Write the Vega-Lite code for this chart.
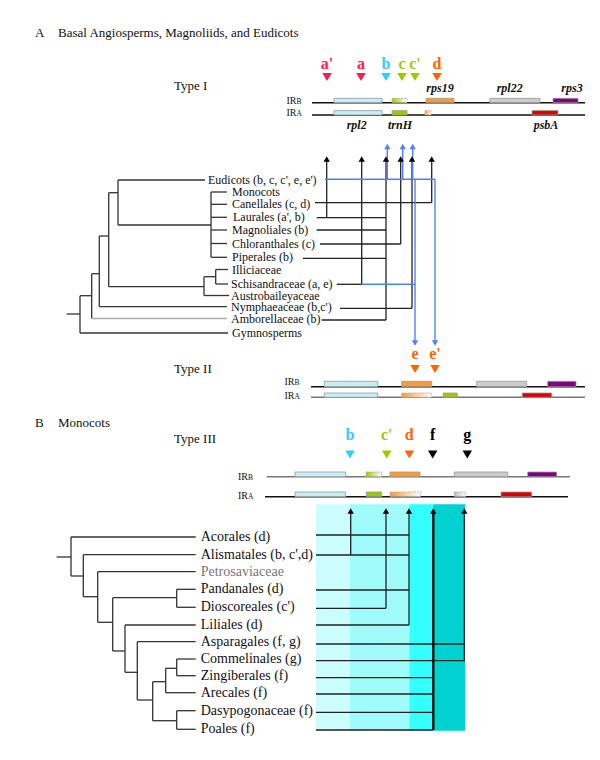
{
"$schema":"https://vega.github.io/schema/vega-lite/v6.json",
"width":600,"height":760,"padding":0,
"autosize":{"type":"fit","contains":"padding"},
"background":"white",
"config":{"view":{"stroke":null},"text":{"font":"Liberation Serif"}},
"resolve":{"scale":{"fill":"independent"}},
"datasets":{
"band":[{"x":316,"x2":350,"y":504.3,"y2":730.7,"b":"b1"},{"x":350,"x2":409.3,"y":504.3,"y2":730.7,"b":"b2"},{"x":409.3,"x2":433.3,"y":504.3,"y2":730.7,"b":"b3"},{"x":433.3,"x2":465,"y":504.3,"y2":730.7,"b":"b4"}],
"genes":[
{"x":334,"x2":382,"y":98.3,"y2":102.7,"g":"rpl2"},
{"x":334,"x2":382,"y":110.6,"y2":115,"g":"rpl2"},
{"x":392,"x2":407,"y":110.6,"y2":115,"g":"trnH"},
{"x":426,"x2":454,"y":98.3,"y2":102.7,"g":"rps19"},
{"x":490,"x2":540,"y":98.3,"y2":102.7,"g":"rpl22"},
{"x":553,"x2":578,"y":98.3,"y2":102.7,"g":"rps3"},
{"x":532,"x2":558,"y":110.6,"y2":115,"g":"psbA"},
{"x":324.3,"x2":377.7,"y":381.3,"y2":386.7,"g":"rpl2"},
{"x":324.3,"x2":377.7,"y":393,"y2":397.3,"g":"rpl2"},
{"x":401.7,"x2":431.7,"y":381.3,"y2":386.7,"g":"rps19"},
{"x":476.7,"x2":526.7,"y":381.3,"y2":386.7,"g":"rpl22"},
{"x":547.7,"x2":576,"y":381.3,"y2":386.7,"g":"rps3"},
{"x":443.3,"x2":457.3,"y":393,"y2":397.3,"g":"trnH"},
{"x":522.3,"x2":551.7,"y":393,"y2":397.3,"g":"psbA"},
{"x":295,"x2":345.7,"y":472,"y2":476.7,"g":"rpl2"},
{"x":295,"x2":345.7,"y":492,"y2":496.7,"g":"rpl2"},
{"x":366.3,"x2":381.7,"y":492,"y2":496.7,"g":"trnH"},
{"x":390,"x2":420,"y":472,"y2":476.7,"g":"rps19"},
{"x":454.3,"x2":507.7,"y":472,"y2":476.7,"g":"rpl22"},
{"x":527.7,"x2":556.7,"y":472,"y2":476.7,"g":"rps3"},
{"x":501,"x2":531.7,"y":492,"y2":496.7,"g":"psbA"}],
"gradGreen":[{"x":392,"x2":407,"y":98.3,"y2":102.7},{"x":366,"x2":381.7,"y":472,"y2":476.7}],
"gradOrange":[{"x":425,"x2":431,"y":110.6,"y2":115},{"x":401.7,"x2":431.7,"y":393,"y2":397.3},{"x":390,"x2":420.7,"y":492,"y2":496.7}],
"gradGray":[{"x":454.3,"x2":465.7,"y":492,"y2":496.7}],
"irBlack":[{"x":312,"y":102.7,"x2":585,"y2":102.7},{"x":312,"y":115,"x2":585,"y2":115},{"x":311,"y":386.7,"x2":585,"y2":386.7},{"x":265,"y":496.7,"x2":568,"y2":496.7}],
"irGray":[{"x":311,"y":397.3,"x2":585,"y2":397.3},{"x":266.7,"y":476.7,"x2":570,"y2":476.7}],
"tree":[
{"x":118,"y":180,"x2":205,"y2":180},
{"x":118,"y":180,"x2":118,"y2":225},
{"x":118,"y":225,"x2":211,"y2":225},
{"x":211,"y":192,"x2":211,"y2":257.3},
{"x":211,"y":192,"x2":227,"y2":192},
{"x":211,"y":204.3,"x2":227,"y2":204.3},
{"x":211,"y":217.3,"x2":227,"y2":217.3},
{"x":211,"y":230,"x2":227,"y2":230},
{"x":211,"y":243.5,"x2":227,"y2":243.5},
{"x":211,"y":257.3,"x2":227,"y2":257.3},
{"x":108.7,"y":192.7,"x2":118,"y2":192.7},
{"x":108.7,"y":192.7,"x2":108.7,"y2":286.7},
{"x":108.7,"y":286.7,"x2":204,"y2":286.7},
{"x":204,"y":276.7,"x2":204,"y2":295.5},
{"x":204,"y":295.5,"x2":229,"y2":295.5},
{"x":204,"y":276.7,"x2":215.7,"y2":276.7},
{"x":215.7,"y":269.5,"x2":215.7,"y2":284},
{"x":215.7,"y":269.5,"x2":228,"y2":269.5},
{"x":215.7,"y":284,"x2":228,"y2":284},
{"x":99.3,"y":236,"x2":108.7,"y2":236},
{"x":99.3,"y":236,"x2":99.3,"y2":306.7},
{"x":99.3,"y":306.7,"x2":227,"y2":306.7},
{"x":91.7,"y":273.7,"x2":99.3,"y2":273.7},
{"x":91.7,"y":273.7,"x2":91.7,"y2":318.5},
{"x":80,"y":295.7,"x2":91.7,"y2":295.7},
{"x":80,"y":295.7,"x2":80,"y2":333},
{"x":80,"y":333,"x2":228,"y2":333},
{"x":66.7,"y":314,"x2":80,"y2":314},
{"x":56.7,"y":557,"x2":71,"y2":557},
{"x":71,"y":537,"x2":71,"y2":576},
{"x":71,"y":537,"x2":195.7,"y2":537},
{"x":71,"y":576,"x2":83.3,"y2":576},
{"x":83.3,"y":554.7,"x2":83.3,"y2":596.7},
{"x":83.3,"y":554.7,"x2":195.7,"y2":554.7},
{"x":83.3,"y":596.7,"x2":97.7,"y2":596.7},
{"x":97.7,"y":571.7,"x2":97.7,"y2":622.3},
{"x":97.7,"y":571.7,"x2":195.7,"y2":571.7},
{"x":97.7,"y":622.3,"x2":112.7,"y2":622.3},
{"x":112.7,"y":597.7,"x2":112.7,"y2":651},
{"x":112.7,"y":597.7,"x2":176.7,"y2":597.7},
{"x":176.7,"y":589.3,"x2":176.7,"y2":607.3},
{"x":176.7,"y":589.3,"x2":195.7,"y2":589.3},
{"x":176.7,"y":607.3,"x2":195.7,"y2":607.3},
{"x":112.7,"y":651,"x2":125,"y2":651},
{"x":125,"y":625,"x2":125,"y2":672.3},
{"x":125,"y":625,"x2":195.7,"y2":625},
{"x":125,"y":672.3,"x2":137.3,"y2":672.3},
{"x":137.3,"y":641.7,"x2":137.3,"y2":700},
{"x":137.3,"y":641.7,"x2":195.7,"y2":641.7},
{"x":137.3,"y":700,"x2":152.7,"y2":700},
{"x":152.7,"y":681.7,"x2":152.7,"y2":720.7},
{"x":152.7,"y":681.7,"x2":165.7,"y2":681.7},
{"x":165.7,"y":668.3,"x2":165.7,"y2":692.7},
{"x":165.7,"y":668.3,"x2":176.7,"y2":668.3},
{"x":176.7,"y":659,"x2":176.7,"y2":675.7},
{"x":176.7,"y":659,"x2":195.7,"y2":659},
{"x":176.7,"y":675.7,"x2":195.7,"y2":675.7},
{"x":165.7,"y":692.7,"x2":195.7,"y2":692.7},
{"x":152.7,"y":720.7,"x2":176.7,"y2":720.7},
{"x":176.7,"y":710.7,"x2":176.7,"y2":729.3},
{"x":176.7,"y":710.7,"x2":195.7,"y2":710.7},
{"x":176.7,"y":729.3,"x2":195.7,"y2":729.3}],
"light":[{"x":91.7,"y":318.5,"x2":227,"y2":318.5}],
"links":[
{"x":315,"y":202.7,"x2":431.7,"y2":202.7},
{"x":431.7,"y":202.7,"x2":431.7,"y2":161},
{"x":316.7,"y":217.7,"x2":386,"y2":217.7},
{"x":326.7,"y":217.7,"x2":326.7,"y2":161},
{"x":316.7,"y":230,"x2":386,"y2":230},
{"x":320,"y":244,"x2":400.7,"y2":244},
{"x":400.7,"y":244,"x2":400.7,"y2":161},
{"x":303,"y":258.3,"x2":386,"y2":258.3},
{"x":336.7,"y":284.3,"x2":361.7,"y2":284.3},
{"x":361.7,"y":284.3,"x2":361.7,"y2":161},
{"x":340,"y":308.3,"x2":412,"y2":308.3},
{"x":412,"y":308.3,"x2":412,"y2":161},
{"x":321.7,"y":320,"x2":386,"y2":320},
{"x":386,"y":320,"x2":386,"y2":161},
{"x":316,"y":535,"x2":409,"y2":535},
{"x":316,"y":555,"x2":409,"y2":555},
{"x":350.7,"y":555,"x2":350.7,"y2":513},
{"x":316,"y":590,"x2":409,"y2":590},
{"x":316,"y":608.3,"x2":386,"y2":608.3},
{"x":386,"y":608.3,"x2":386,"y2":513},
{"x":316,"y":625,"x2":409,"y2":625},
{"x":409,"y":625,"x2":409,"y2":513},
{"x":316,"y":644,"x2":465,"y2":644},
{"x":316,"y":660.7,"x2":465,"y2":660.7},
{"x":464.3,"y":660.7,"x2":464.3,"y2":513},
{"x":316,"y":677.7,"x2":433,"y2":677.7},
{"x":316,"y":694,"x2":433,"y2":694},
{"x":316,"y":712.3,"x2":433,"y2":712.3},
{"x":316,"y":730,"x2":433,"y2":730}],
"thick":[{"x":433.3,"y":730,"x2":433.3,"y2":513}],
"blue":[
{"x":325,"y":179.3,"x2":435,"y2":179.3},
{"x":387.3,"y":179.3,"x2":387.3,"y2":148},
{"x":402.7,"y":179.3,"x2":402.7,"y2":148},
{"x":412.7,"y":179.3,"x2":412.7,"y2":148},
{"x":415,"y":179.3,"x2":415,"y2":341},
{"x":435,"y":179.3,"x2":435,"y2":341},
{"x":361.7,"y":284.3,"x2":415,"y2":284.3}],
"arrUp":[{"x":326.7,"y":159},{"x":361.7,"y":159},{"x":386,"y":159},{"x":400.7,"y":159},{"x":412,"y":159},{"x":431.7,"y":159},{"x":350.7,"y":511},{"x":386,"y":511},{"x":409,"y":511},{"x":433.3,"y":511},{"x":464.3,"y":511}],
"arrBlueUp":[{"x":387.3,"y":146.5},{"x":402.7,"y":146.5},{"x":412.7,"y":146.5}],
"arrBlueDown":[{"x":415,"y":343},{"x":435,"y":343}],
"markers":[
{"x":327,"y":77,"c":"red"},{"x":361,"y":77,"c":"red"},{"x":386,"y":77,"c":"cyan"},{"x":402,"y":77,"c":"green"},{"x":415,"y":77,"c":"green"},{"x":437,"y":77,"c":"orange"},
{"x":415,"y":369,"c":"orange"},{"x":435,"y":369,"c":"orange"},
{"x":350,"y":454.5,"c":"cyan"},{"x":386.7,"y":454.5,"c":"green"},{"x":409.3,"y":454.5,"c":"orange"},{"x":432.7,"y":454.5,"c":"black"},{"x":467.3,"y":454.5,"c":"black"}],
"letters":[
{"x":327,"y":68.5,"t":"a'","c":"red"},{"x":361,"y":68.5,"t":"a","c":"red"},{"x":386,"y":68.5,"t":"b","c":"cyan"},{"x":402,"y":68.5,"t":"c","c":"green"},{"x":415,"y":68.5,"t":"c'","c":"green"},{"x":437,"y":68.5,"t":"d","c":"orange"},
{"x":415,"y":359,"t":"e","c":"orange"},{"x":435,"y":359,"t":"e'","c":"orange"},
{"x":350,"y":440,"t":"b","c":"cyan"},{"x":386.7,"y":440,"t":"c'","c":"green"},{"x":409.3,"y":440,"t":"d","c":"orange"},{"x":432.7,"y":440,"t":"f","c":"black"},{"x":467.3,"y":440,"t":"g","c":"black"}],
"headers":[
{"x":35,"y":36.5,"t":"A"},{"x":58,"y":36.5,"t":"Basal Angiosperms, Magnoliids, and Eudicots"},
{"x":174,"y":89.5,"t":"Type I"},{"x":174,"y":372.5,"t":"Type II"},
{"x":35,"y":426.5,"t":"B"},{"x":58,"y":426.5,"t":"Monocots"},
{"x":174,"y":442.8,"t":"Type III"}],
"geneLbl":[
{"x":440,"y":91.5,"t":"rps19"},{"x":509.7,"y":91.5,"t":"rpl22"},{"x":572,"y":91.5,"t":"rps3"},
{"x":356.7,"y":129,"t":"rpl2"},{"x":400,"y":129,"t":"trnH"},{"x":546,"y":129,"t":"psbA"}],
"irMain":[{"x":286.5,"y":103.5},{"x":286.5,"y":116},{"x":284.5,"y":385},{"x":284.5,"y":399},{"x":238,"y":479.5},{"x":238,"y":499}],
"irSub":[{"x":296.5,"y":103.5,"t":"B"},{"x":296.5,"y":116,"t":"A"},{"x":294.5,"y":385,"t":"B"},{"x":294.5,"y":399,"t":"A"},{"x":248,"y":479.5,"t":"B"},{"x":248,"y":499,"t":"A"}],
"taxaA":[
{"x":208,"y":179.5,"t":"Eudicots (b, c, c', e, e')"},
{"x":232,"y":192,"t":"Monocots"},
{"x":232,"y":204.3,"t":"Canellales (c, d)"},
{"x":233,"y":217.3,"t":"Laurales (a', b)"},
{"x":232,"y":230,"t":"Magnoliales (b)"},
{"x":232,"y":243.5,"t":"Chloranthales (c)"},
{"x":232,"y":257.3,"t":"Piperales (b)"},
{"x":232,"y":269.5,"t":"Illiciaceae"},
{"x":231,"y":284,"t":"Schisandraceae (a, e)"},
{"x":231,"y":295.5,"t":"Austrobaileyaceae"},
{"x":231,"y":306.7,"t":"Nymphaeaceae (b,c')"},
{"x":231,"y":318.5,"t":"Amborellaceae (b)"},
{"x":232,"y":333,"t":"Gymnosperms"}],
"taxaB":[
{"x":200.7,"y":537,"t":"Acorales (d)"},
{"x":200.7,"y":554.7,"t":"Alismatales (b, c',d)"},
{"x":200.7,"y":589.3,"t":"Pandanales (d)"},
{"x":200.7,"y":607.3,"t":"Dioscoreales (c')"},
{"x":200.7,"y":625,"t":"Liliales (d)"},
{"x":200.7,"y":641.7,"t":"Asparagales (f, g)"},
{"x":200.7,"y":659,"t":"Commelinales (g)"},
{"x":200.7,"y":675.7,"t":"Zingiberales (f)"},
{"x":200.7,"y":692.7,"t":"Arecales (f)"},
{"x":200.7,"y":710.7,"t":"Dasypogonaceae (f)"},
{"x":200.7,"y":729.3,"t":"Poales (f)"}],
"taxaBgray":[{"x":200.7,"y":571.7,"t":"Petrosaviaceae"}]
},
"encoding":{
"x":{"field":"x","type":"quantitative","scale":{"domain":[0,600],"nice":false,"zero":false},"axis":null},
"y":{"field":"y","type":"quantitative","scale":{"domain":[0,760],"nice":false,"zero":false,"reverse":true},"axis":null}
},
"layer":[
{"data":{"name":"band"},"mark":{"type":"rect"},"encoding":{"x2":{"field":"x2"},"y2":{"field":"y2"},"fill":{"field":"b","type":"nominal","legend":null,"scale":{"domain":["b1","b2","b3","b4","rpl2","trnH","rps19","rpl22","rps3","psbA"],"range":["#ccfdff","#a0fbfb","#33ffff","#00d2d2","#c8eef5","#99cc00","#ff9933","#cccccc","#800080","#dd0000"]}}}},
{"data":{"name":"irBlack"},"mark":{"type":"rule","color":"#111","strokeWidth":1.5},"encoding":{"x2":{"field":"x2"},"y2":{"field":"y2"}}},
{"data":{"name":"irGray"},"mark":{"type":"rule","color":"#777","strokeWidth":1.5},"encoding":{"x2":{"field":"x2"},"y2":{"field":"y2"}}},
{"data":{"name":"genes"},"mark":{"type":"rect","stroke":"#999","strokeWidth":0.8},"encoding":{"x2":{"field":"x2"},"y2":{"field":"y2"},"fill":{"field":"g","type":"nominal","legend":null,"scale":{"domain":["b1","b2","b3","b4","rpl2","trnH","rps19","rpl22","rps3","psbA"],"range":["#ccfdff","#a0fbfb","#33ffff","#00d2d2","#c8eef5","#99cc00","#ff9933","#cccccc","#800080","#dd0000"]}}}},
{"data":{"name":"gradGreen"},"mark":{"type":"rect","stroke":"#aaa","strokeWidth":0.8,"strokeDash":[2,1],"fill":{"gradient":"linear","x1":0,"y1":0,"x2":1,"y2":0,"stops":[{"offset":0,"color":"#99cc00"},{"offset":1,"color":"#ffffff"}]}},"encoding":{"x2":{"field":"x2"},"y2":{"field":"y2"}}},
{"data":{"name":"gradOrange"},"mark":{"type":"rect","stroke":"#aaa","strokeWidth":0.8,"strokeDash":[2,1],"fill":{"gradient":"linear","x1":0,"y1":0,"x2":1,"y2":0,"stops":[{"offset":0,"color":"#ff9933"},{"offset":1,"color":"#ffffff"}]}},"encoding":{"x2":{"field":"x2"},"y2":{"field":"y2"}}},
{"data":{"name":"gradGray"},"mark":{"type":"rect","stroke":"#aaa","strokeWidth":0.8,"strokeDash":[2,1],"fill":{"gradient":"linear","x1":0,"y1":0,"x2":1,"y2":0,"stops":[{"offset":0,"color":"#bbbbbb"},{"offset":1,"color":"#ffffff"}]}},"encoding":{"x2":{"field":"x2"},"y2":{"field":"y2"}}},
{"data":{"name":"tree"},"mark":{"type":"rule","color":"#333","strokeWidth":1.3},"encoding":{"x2":{"field":"x2"},"y2":{"field":"y2"}}},
{"data":{"name":"light"},"mark":{"type":"rule","color":"#aaa","strokeWidth":1.3},"encoding":{"x2":{"field":"x2"},"y2":{"field":"y2"}}},
{"data":{"name":"links"},"mark":{"type":"rule","color":"#222","strokeWidth":1.3},"encoding":{"x2":{"field":"x2"},"y2":{"field":"y2"}}},
{"data":{"name":"thick"},"mark":{"type":"rule","color":"#000","strokeWidth":2.3},"encoding":{"x2":{"field":"x2"},"y2":{"field":"y2"}}},
{"data":{"name":"blue"},"mark":{"type":"rule","color":"#4d80ff","strokeWidth":1.4},"encoding":{"x2":{"field":"x2"},"y2":{"field":"y2"}}},
{"data":{"name":"arrUp"},"mark":{"type":"point","shape":"triangle-up","filled":true,"size":40,"color":"#000","opacity":1}},
{"data":{"name":"arrBlueUp"},"mark":{"type":"point","shape":"triangle-up","filled":true,"size":40,"color":"#4d80ff","opacity":1}},
{"data":{"name":"arrBlueDown"},"mark":{"type":"point","shape":"triangle-down","filled":true,"size":40,"color":"#4d80ff","opacity":1}},
{"data":{"name":"markers"},"mark":{"type":"point","shape":"triangle-down","filled":true,"size":90,"opacity":1},"encoding":{"color":{"field":"c","type":"nominal","legend":null,"scale":{"domain":["red","cyan","green","orange","black"],"range":["#ff1a4d","#33ccff","#99cc00","#ff6600","#000000"]}}}},
{"data":{"name":"letters"},"mark":{"type":"text","fontSize":16,"fontWeight":"bold","align":"center","baseline":"alphabetic"},"encoding":{"text":{"field":"t"},"color":{"field":"c","type":"nominal","legend":null,"scale":{"domain":["red","cyan","green","orange","black"],"range":["#ff1a4d","#33ccff","#99cc00","#ff6600","#000000"]}}}},
{"data":{"name":"headers"},"mark":{"type":"text","fontSize":13,"align":"left","baseline":"alphabetic","color":"#111"},"encoding":{"text":{"field":"t"}}},
{"data":{"name":"geneLbl"},"mark":{"type":"text","fontSize":12,"fontWeight":"bold","fontStyle":"italic","align":"center","baseline":"alphabetic","color":"#111"},"encoding":{"text":{"field":"t"}}},
{"data":{"name":"irMain"},"mark":{"type":"text","fontSize":10,"align":"left","baseline":"alphabetic","color":"#111","text":"IR"}},
{"data":{"name":"irSub"},"mark":{"type":"text","fontSize":7.5,"align":"left","baseline":"alphabetic","color":"#111"},"encoding":{"text":{"field":"t"}}},
{"data":{"name":"taxaA"},"mark":{"type":"text","fontSize":12,"align":"left","baseline":"middle","color":"#111"},"encoding":{"text":{"field":"t"}}},
{"data":{"name":"taxaB"},"mark":{"type":"text","fontSize":14,"align":"left","baseline":"middle","color":"#111"},"encoding":{"text":{"field":"t"}}},
{"data":{"name":"taxaBgray"},"mark":{"type":"text","fontSize":14,"align":"left","baseline":"middle","color":"#777"},"encoding":{"text":{"field":"t"}}}
]
}
